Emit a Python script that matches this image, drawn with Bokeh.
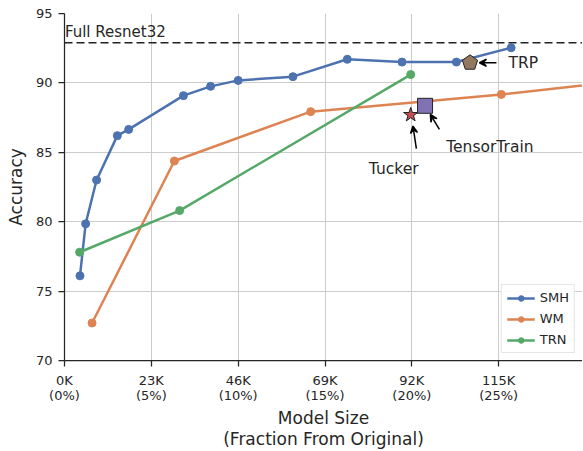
from bokeh.plotting import figure
from bokeh.models import Range1d, FixedTicker, Span, Label, Arrow, VeeHead, Legend, LegendItem
from bokeh.embed import file_html
from bokeh.resources import INLINE

# ---- data (model size in K params, accuracy %) ----
smh_x = [4.1, 5.6, 8.5, 14.0, 17.0, 31.5, 38.7, 46.0, 60.5, 74.9, 89.4, 103.8, 118.3]
smh_y = [76.1, 79.85, 83.0, 86.2, 86.65, 89.08, 89.75, 90.18, 90.45, 91.7, 91.5, 91.5, 92.53]

wm_x = [7.3, 29.1, 65.2, 115.7, 145.0]
wm_y = [72.7, 84.37, 87.93, 89.17, 90.05]

trn_x = [4.0, 30.5, 91.7]
trn_y = [77.8, 80.8, 90.6]

full_acc = 92.9
trp_x, trp_y = [107.4], [91.45]
tt_x, tt_y = [95.5], [88.35]
tucker_x, tucker_y = [91.7], [87.7]

x_ticks = [0, 23, 46, 69, 92, 115]
x_tick_labels = ["0K\n(0%)", "23K\n(5%)", "46K\n(10%)", "69K\n(15%)", "92K\n(20%)", "115K\n(25%)"]
y_ticks = [70, 75, 80, 85, 90, 95]

BLUE, ORANGE, GREEN = "#4c72b0", "#dd8452", "#55a868"
RED, PURPLE, BROWN = "#c44e52", "#8172b3", "#937860"
TXT = "#262626"
FONT = "DejaVu Sans"

p = figure(width=582, height=451, output_backend="svg", toolbar_location=None,
           x_range=Range1d(0, 137.2), y_range=Range1d(70, 95),
           min_border_left=64, min_border_right=0, min_border_top=13, min_border_bottom=74)
p.outline_line_color = None
p.background_fill_color = "white"

for ax in (p.xaxis[0], p.yaxis[0]):
    ax.axis_line_color = TXT
    ax.axis_line_width = 1.25
    ax.major_tick_line_color = TXT
    ax.major_tick_line_width = 1.25
    ax.major_tick_out = 6
    ax.major_tick_in = 0
    ax.minor_tick_line_color = None
    ax.major_label_text_font = FONT
    ax.major_label_text_font_size = "13px"
    ax.major_label_text_color = TXT
    ax.major_label_text_line_height = 1.0
    ax.axis_label_text_font = FONT
    ax.axis_label_text_font_size = "17px"
    ax.axis_label_text_font_style = "normal"
    ax.axis_label_text_color = TXT
    ax.axis_label_text_line_height = 1.05

p.xaxis.ticker = FixedTicker(ticks=x_ticks)
p.xaxis.major_label_overrides = {t: l for t, l in zip(x_ticks, x_tick_labels)}
p.xaxis.axis_label = "Model Size\n(Fraction From Original)"
p.xaxis.major_label_standoff = 6
p.xaxis.axis_label_standoff = 2
p.yaxis.ticker = FixedTicker(ticks=y_ticks)
p.yaxis.axis_label = "Accuracy"
p.yaxis.major_label_standoff = 6
p.yaxis.axis_label_standoff = 7

p.grid.grid_line_color = "#cccccc"
p.grid.grid_line_width = 1

# reference line
p.add_layout(Span(location=full_acc, dimension="width", line_color="#222222",
                  line_dash="8 4", line_width=1.5))
p.add_layout(Label(x=0.1, y=full_acc, text="Full Resnet32", text_font=FONT,
                   text_font_size="15px", text_color=TXT, y_offset=2,
                   text_baseline="bottom"))

items = []
for xs, ys, c, name in [(smh_x, smh_y, BLUE, "SMH"), (wm_x, wm_y, ORANGE, "WM"),
                        (trn_x, trn_y, GREEN, "TRN")]:
    l = p.line(xs, ys, line_color=c, line_width=2.5)
    s = p.scatter(xs, ys, size=8, fill_color=c, line_color=c)
    items.append(LegendItem(label=name, renderers=[l, s]))

# other methods
p.ngon(x=trp_x, y=trp_y, radius=8, radius_units="screen", n=5, angle=0,
       fill_color=BROWN, line_color="#222222", line_width=1)
p.scatter(tt_x, tt_y, marker="square", size=15, fill_color=PURPLE,
          line_color="#222222", line_width=1)
p.scatter(tucker_x, tucker_y, marker="star", size=15, fill_color=RED,
          line_color="#222222", line_width=1)

def arrow(x0, y0, x1, y1):
    p.add_layout(Arrow(end=VeeHead(size=7, line_color="black", fill_color="black", line_width=1.5),
                       x_start=x0, y_start=y0, x_end=x1, y_end=y1,
                       line_color="black", line_width=1.5))

arrow(114.4, 91.45, 109.9, 91.45)
arrow(99.3, 86.65, 96.9, 87.73)
arrow(93.2, 85.27, 92.3, 86.89)

for x, y, t, align in [(117.6, 91.45, "TRP", "left"), (101.1, 85.38, "TensorTrain", "left"),
                       (87.2, 83.78, "Tucker", "center")]:
    p.add_layout(Label(x=x, y=y, text=t, text_font=FONT, text_font_size="15.5px",
                       text_color=TXT, text_align=align, text_baseline="middle"))

leg = Legend(items=items, location="bottom_right")
leg.label_text_font = FONT
leg.label_text_font_size = "13px"
leg.label_text_color = TXT
leg.border_line_color = "#cccccc"
leg.border_line_width = 1
leg.background_fill_alpha = 0.9
leg.glyph_width = 28
leg.glyph_height = 14
leg.label_height = 14
leg.spacing = 6
leg.padding = 5
leg.margin = 7
p.add_layout(leg)

open("out.html", "w").write(file_html(p, INLINE))
